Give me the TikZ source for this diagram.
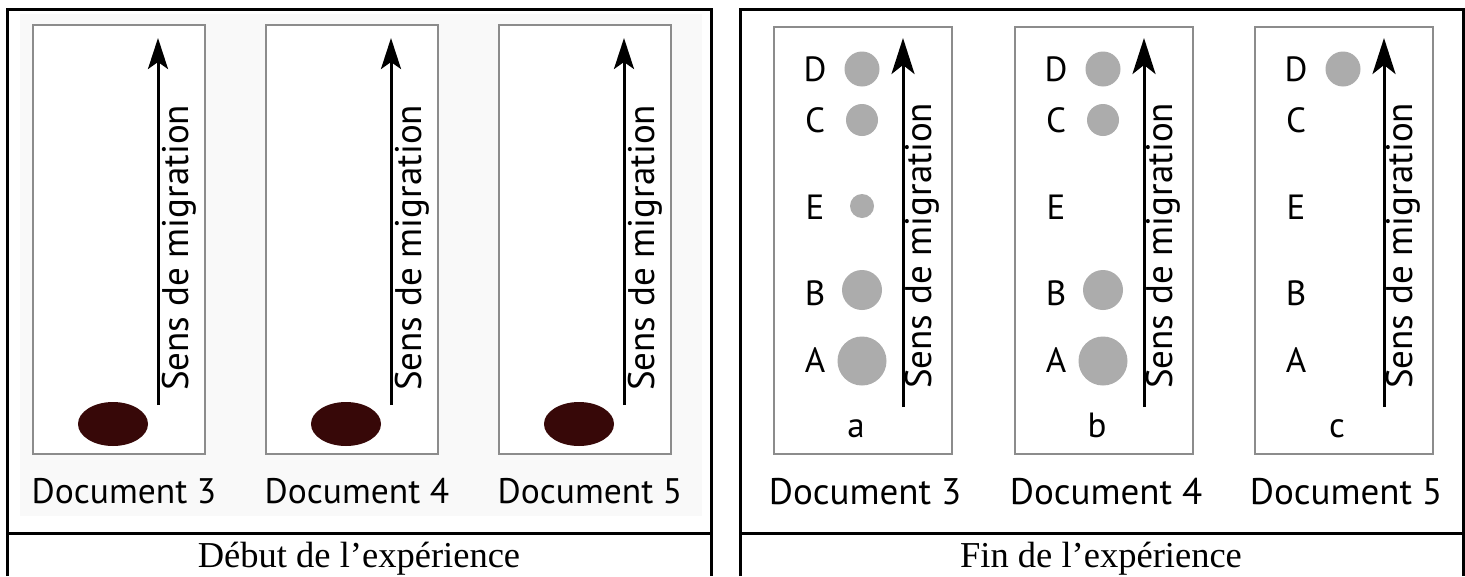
\documentclass[tikz,border=0pt]{standalone}
\usepackage{fontspec}
\setmainfont{Liberation Serif}
\newfontfamily\myr{PT Sans}
\usetikzlibrary{arrows.meta}
\definecolor{framegray}{RGB}{140,140,140}
\definecolor{spotgray}{RGB}{172,172,172}
\definecolor{inkbrown}{RGB}{55,8,8}
\definecolor{bgpaper}{RGB}{249,249,249}
\tikzset{
  outer/.style={line width=3pt, draw=black},
  plate/.style={draw=framegray, line width=2pt, fill=white, inner sep=0pt, anchor=north west},
  migrL/.style={line width=3pt, -{Stealth[length=31pt,width=20pt,inset=7pt]}},
  migrR/.style={line width=3pt, -{Stealth[length=36pt,width=23pt,inset=9pt]}},
  sens/.style={font=\myr\fontsize{37}{40}\selectfont, rotate=90, anchor=base west, inner sep=0pt},
  docL/.style={font=\myr\fontsize{35.5}{40}\selectfont, anchor=base, inner sep=0pt},
  docR/.style={font=\myr\fontsize{37}{40}\selectfont, anchor=base, inner sep=0pt},
  letter/.style={font=\myr\fontsize{35}{40}\selectfont, anchor=center, inner sep=0pt},
  small/.style={font=\myr\fontsize{35}{40}\selectfont, anchor=base, inner sep=0pt},
  caption/.style={font=\fontsize{36.5}{40}\selectfont, anchor=base, inner sep=0pt},
}
\begin{document}
\begin{tikzpicture}[x=1pt,y=-1pt]
\useasboundingbox (0,0) rectangle (1465,576);
% light paper background of the left picture
\fill[bgpaper] (20,14) rectangle (702,516);

% table frames
\draw[outer] (7,576) -- (7,9) -- (711,9) -- (711,576);
\draw[outer] (7,533) -- (711,533);
\draw[outer] (740,576) -- (740,9) -- (1463,9) -- (1463,576);
\draw[outer] (740,533) -- (1463,533);

% ---------- left panel: start of experiment ----------
\foreach \x/\n in {32/3, 265/4, 498/5}{
  \node[plate, minimum width=172pt, minimum height=429pt] (L\n) at (\x,24) {};
  \fill[inkbrown] (\x+81,424) ellipse [x radius=35, y radius=22];
  \coordinate (L\n b) at (\x+126,405);
  \coordinate (L\n t) at (\x+126,38);
  \draw[migrL] (L\n b) -- (L\n t);
  \node[sens] (L\n s) at (\x+156,391) {Sens de migration};
  \node[docL] (L\n d) at (\x+92,503) {Document \n};
}
\node[caption] (capL) at (359,567) {Début de l’expérience};

% ---------- right panel: end of experiment ----------
\foreach \x/\n/\k in {773/3/a, 1014/4/b, 1254/5/c}{
  \node[plate, minimum width=178pt, minimum height=427pt] (R\n) at (\x,26) {};
  \coordinate (R\n b) at (\x+130,407);
  \coordinate (R\n t) at (\x+130,38);
  \draw[migrR] (R\n b) -- (R\n t);
  \node[sens] (R\n s) at (\x+158,389) {Sens de migration};
  \node[letter] (R\n D) at (\x+42,69) {D};
  \node[letter] (R\n C) at (\x+42,120) {C};
  \node[letter] (R\n E) at (\x+42,207) {E};
  \node[letter] (R\n B) at (\x+42,293) {B};
  \node[letter] (R\n A) at (\x+42,360) {A};
  \node[small] (R\n k) at (\x+83,437) {\k};
  \node[docR] (R\n d) at (\x+92,504) {Document \n};
}
% spots, document 3 (a)
\fill[spotgray] (862,69) circle [radius=17.5];
\fill[spotgray] (862,120) circle [radius=16];
\fill[spotgray] (862,206) circle [radius=12];
\fill[spotgray] (862,290) circle [radius=20];
\fill[spotgray] (862,361) circle [radius=24.5];
% spots, document 4 (b)
\fill[spotgray] (1103,69) circle [radius=17.5];
\fill[spotgray] (1103,120) circle [radius=16];
\fill[spotgray] (1103,290) circle [radius=20];
\fill[spotgray] (1103,361) circle [radius=24.5];
% spot, document 5 (c)
\fill[spotgray] (1343,69) circle [radius=17.5];

\node[caption] (capR) at (1101,567) {Fin de l’expérience};
\end{tikzpicture}
\end{document}
